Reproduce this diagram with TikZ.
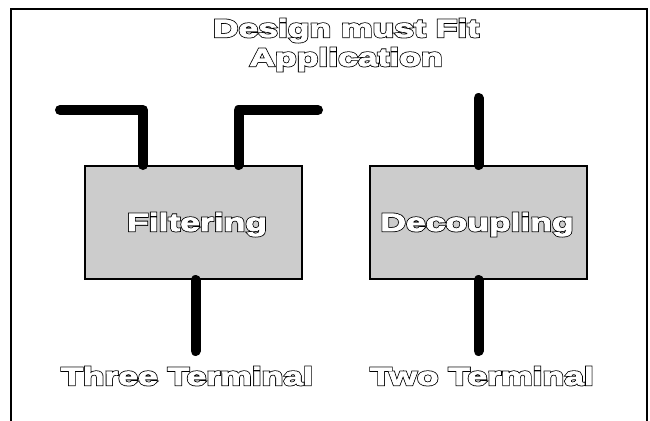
\documentclass[tikz,border=0pt]{standalone}
\usepackage{fontspec}
\usetikzlibrary{positioning,calc}
\newfontfamily\heavyfont{Liberation Sans}[FakeStretch=1.42]
% outlined lettering: a wide black stroke under a narrower white one
\newcommand{\hollow}[1]{%
  \rlap{\special{pdf:literal 2 Tr 2.4 w 0 g 0 G}#1\special{pdf:literal 0 Tr}}%
  {\color{white}\special{pdf:literal 2 Tr 0.8 w 1 g 1 G}#1\special{pdf:literal 0 Tr 0 g 0 G}}}
\tikzset{block/.style={draw,line width=2pt,fill=black!20,minimum width=217pt,minimum height=113pt,inner sep=0pt},
         lead/.style={line width=10pt,line cap=round,line join=round},
         label/.style={font=\heavyfont\bfseries\fontsize{25}{29}\selectfont,inner sep=0pt,anchor=base}
}

\begin{document}
\begin{tikzpicture}[x=1pt,y=-1pt]
\useasboundingbox (0,0) rectangle (650,420);
\draw[line width=2pt] (11,430) |- (647,9) -- (647,430);

\node[block] (filt) at (193.5,222.5) {};
\node[block,right=66pt of filt] (dec) {};
\node[label] (filtlbl) at (197,231) {\hollow{Filtering}};
\node[label] (declbl) at (477,231) {\hollow{Decoupling}};
\node[label] (title) at (346,37) {\hollow{Design must Fit}};
\node[label] (title2) at (346,66) {\hollow{Application}};
\node[label] (three) at (187,385) {\hollow{Three Terminal}};
\node[label] (two) at (482,385) {\hollow{Two Terminal}};

% lead ends
\coordinate (inL) at (60,110);
\coordinate (outR) at (318,110);
\coordinate (gndF) at (195.5,351);
\coordinate (topD) at (478.5,98);
\coordinate (gndD) at (478.5,351);

\draw[lead] (inL) -| ($(filt.north west)+(59,0)$);
\draw[lead] (outR) -| ($(filt.north east)+(-64.5,0)$);
\draw[lead] (gndF) -- (gndF |- filt.south);
\draw[lead] (topD) -- (topD |- dec.north);
\draw[lead] (gndD) -- (gndD |- dec.south);

\end{tikzpicture}
\end{document}
